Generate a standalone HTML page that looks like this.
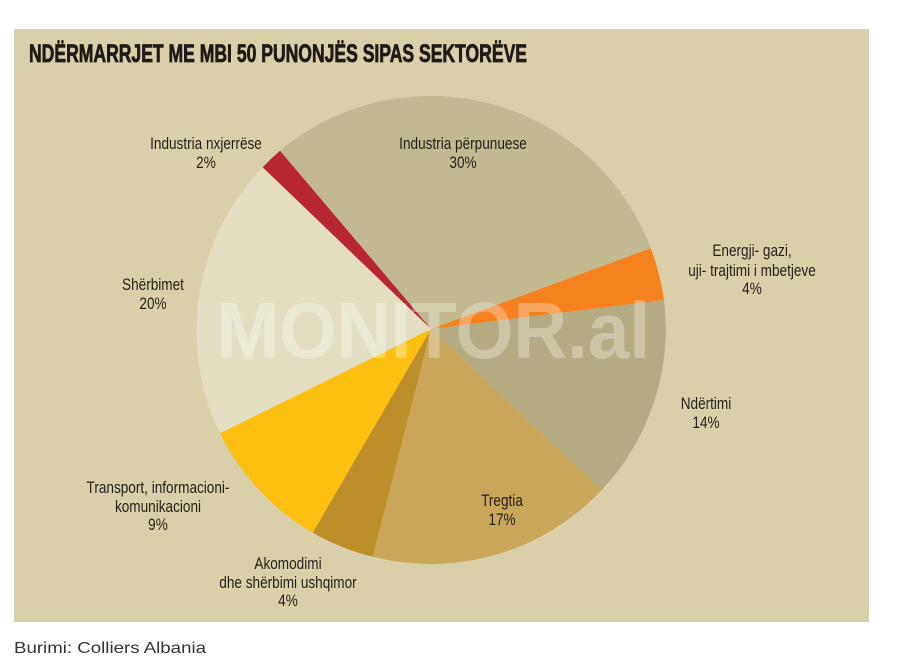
<!DOCTYPE html>
<html><head><meta charset="utf-8"><style>
html,body{margin:0;padding:0;background:#fff;}
svg{display:block;}
</style></head><body>
<svg width="900" height="667" viewBox="0 0 900 667" xmlns="http://www.w3.org/2000/svg">
<rect x="14" y="29" width="855" height="593" fill="#d9d0aa"/>
<text x="29" y="62" font-family="Liberation Sans, sans-serif" font-weight="bold" font-size="25" fill="#1e1a17" stroke="#1e1a17" stroke-width="0.8" textLength="498" lengthAdjust="spacingAndGlyphs">NDËRMARRJET ME MBI 50 PUNONJËS SIPAS SEKTORËVE</text>
<g>
<path d="M431,329 L280,150.7 A235,235 0 0 1 650.7,248.3 Z" fill="#c2b990"/>
<path d="M431,329 L650.7,248.3 A235,235 0 0 1 664,300 Z" fill="#f5821f"/>
<path d="M431,329 L664,300 A235,235 0 0 1 601.7,490 Z" fill="#b5ab82"/>
<path d="M431,329 L601.7,490 A235,235 0 0 1 372.7,556.7 Z" fill="#c9a75a"/>
<path d="M431,329 L372.7,556.7 A235,235 0 0 1 312.7,532.7 Z" fill="#bd8f2a"/>
<path d="M431,329 L312.7,532.7 A235,235 0 0 1 220,433.3 Z" fill="#fdc010"/>
<path d="M431,329 L220,433.3 A235,235 0 0 1 262.7,167.3 Z" fill="#e3dec2"/>
<path d="M431,329 L262.7,167.3 A235,235 0 0 1 280,150.7 Z" fill="#b72632"/>
</g>
<text x="217" y="358" font-family="Liberation Sans, sans-serif" font-weight="bold" font-size="80" fill="#ffffff" fill-opacity="0.3" textLength="433" lengthAdjust="spacingAndGlyphs">MONITOR.al</text>
<g transform="scale(0.8,1)" font-family="Liberation Sans, sans-serif" font-size="17" fill="#231f1c" text-anchor="middle">
<text x="257.5" y="149">Industria nxjerrëse</text><text x="257.5" y="168">2%</text>
<text x="578.75" y="149">Industria përpunuese</text><text x="578.75" y="168">30%</text>
<text x="940" y="256">Energji- gazi,</text><text x="940" y="276">uji- trajtimi i mbetjeve</text><text x="940" y="294">4%</text>
<text x="882.5" y="409">Ndërtimi</text><text x="882.5" y="428">14%</text>
<text x="627.5" y="506">Tregtia</text><text x="627.5" y="525">17%</text>
<text x="197.5" y="493">Transport, informacioni-</text><text x="197.5" y="512">komunikacioni</text><text x="197.5" y="530">9%</text>
<text x="360" y="569">Akomodimi</text><text x="360" y="588">dhe shërbimi ushqimor</text><text x="360" y="606">4%</text>
<text x="191.25" y="290">Shërbimet</text><text x="191.25" y="309">20%</text>
</g>
<text x="14" y="653" font-family="Liberation Sans, sans-serif" font-size="16" fill="#333" textLength="192" lengthAdjust="spacingAndGlyphs">Burimi: Colliers Albania</text>
</svg>
</body></html>
